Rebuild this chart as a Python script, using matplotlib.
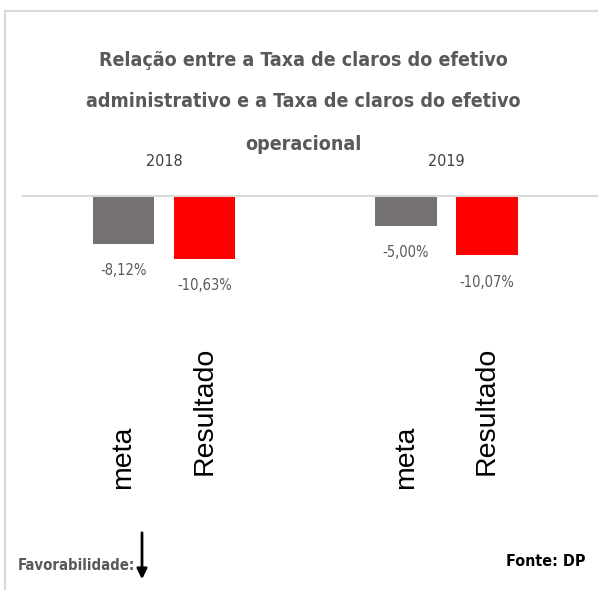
import numpy as np
import matplotlib
matplotlib.use("Agg")
import matplotlib.pyplot as plt
import matplotlib.transforms as mtransforms
from matplotlib.lines import Line2D
from matplotlib.patches import FancyArrowPatch

# dados
anos = ["2018", "2019"]
series = ["meta", "Resultado"]
meta = [-8.12, -5.00]
resultado = [-10.63, -10.07]
rotulos_meta = ["-8,12%", "-5,00%"]
rotulos_resultado = ["-10,63%", "-10,07%"]

titulo = ["Relação entre a Taxa de claros do efetivo",
          "administrativo e a Taxa de claros do efetivo",
          "operacional"]

FONTE = "DejaVu Sans"   # usada com stretch condensed
CINZA = "#767171"
VERMELHO = "#ff0000"
TEXTO = "#595959"

W, H = 598, 590
fig = plt.figure(figsize=(W / 100, H / 100), dpi=100)

def fx(px):
    return px / W

def fy(py):
    return 1 - py / H

# eixo: linha do zero em y=196 px, 5.9 px por ponto percentual
topo, base = 196, 300
ax = fig.add_axes([fx(23), fy(base), fx(W) - fx(23), fy(topo) - fy(base)])
ax.set_ylim(-(base - topo) / 5.9, 0)
ax.set_xlim((23 - 164) / 282.5, (W - 164) / 282.5)
for s in ax.spines.values():
    s.set_visible(False)
ax.set_xticks([])
ax.set_yticks([])
ax.patch.set_alpha(0)

x = np.arange(len(anos))
desl = 0.1434
larg = 0.219
b1 = ax.bar(x - desl, meta, larg, color=CINZA, clip_on=False)
b2 = ax.bar(x + desl, resultado, larg, color=VERMELHO, clip_on=False)
ax.axhline(0, color="#d9d9d9", lw=1.5, clip_on=False)

for barras, rot in [(b1, rotulos_meta), (b2, rotulos_resultado)]:
    for b, t in zip(barras, rot):
        ax.annotate(t, (b.get_x() + b.get_width() / 2, b.get_height()),
                    xytext=(0, -19.5), textcoords="offset points",
                    ha="center", va="center", fontsize=10.5,
                    color=TEXTO, family=FONTE, stretch="condensed",
                    annotation_clip=False)

# rótulos das categorias (verticais) e anos
trans = mtransforms.blended_transform_factory(ax.transData, fig.transFigure)
for i in x:
    ax.text(i - desl, fy(457), series[0], rotation=90, ha="center", va="center",
            fontsize=20.5, transform=trans, family="Liberation Sans")
    ax.text(i + desl, fy(411), series[1], rotation=90, ha="center", va="center",
            fontsize=20.5, transform=trans, family="Liberation Sans")
    ax.text(i, fy(161), anos[i], ha="center", va="center", fontsize=11.5,
            color="#404040", transform=trans, family=FONTE, stretch="condensed")

for linha, y in zip(titulo, [60, 102, 144]):
    fig.text(0.508, fy(y), linha, ha="center", va="center", fontsize=14,
             color=TEXTO, family=FONTE, stretch="condensed", weight="bold")

# moldura
fig.add_artist(Line2D([fx(5), 1], [fy(11), fy(11)], color="#d9d9d9", lw=1.5))
fig.add_artist(Line2D([fx(5), fx(5)], [fy(11), 0], color="#d9d9d9", lw=1.5))

# rodapé
fig.text(fx(18), fy(566), "Favorabilidade:", ha="left", va="center",
         fontsize=10.7, color=TEXTO, family=FONTE, stretch="condensed",
         weight="bold")
fig.text(fx(586), fy(562), "Fonte: DP", ha="right", va="center",
         fontsize=11.5, color="black", family=FONTE, stretch="condensed",
         weight="bold")
fig.add_artist(FancyArrowPatch(
    (fx(142), fy(530)), (fx(142), fy(582)), transform=fig.transFigure,
    arrowstyle="-|>,head_length=6,head_width=3", color="black", lw=2))

fig.savefig("out.png", dpi=100)
